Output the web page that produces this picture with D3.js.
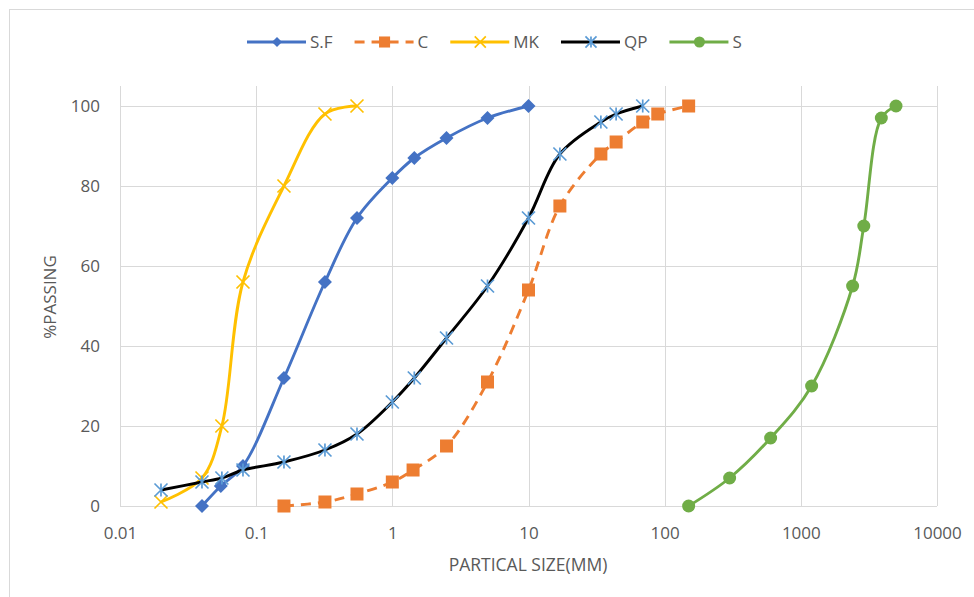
<!DOCTYPE html>
<html>
<head>
<meta charset="utf-8">
<script src="https://cdn.jsdelivr.net/npm/d3@7"></script>
<style>
  body { margin: 0; background: #fff; }
  text { font-family: "Open Sans", sans-serif; fill: #595959; }
</style>
</head>
<body>
<div id="chart"></div>
<script>
// sieve data: size in mm, % passing
var sfSize = [0.04, 0.055, 0.08, 0.16, 0.32, 0.55, 1, 1.45, 2.5, 5, 10];
var sfPass = [0, 5, 10, 32, 56, 72, 82, 87, 92, 97, 100];

var cSize = [0.16, 0.32, 0.55, 1, 1.42, 2.5, 5, 10, 17, 34, 44, 69, 89, 150];
var cPass = [0, 1, 3, 6, 9, 15, 31, 54, 75, 88, 91, 96, 98, 100];

var mkSize = [0.02, 0.04, 0.056, 0.08, 0.16, 0.32, 0.55];
var mkPass = [1, 7, 20, 56, 80, 98, 100];

var qpSize = [0.02, 0.04, 0.056, 0.08, 0.16, 0.32, 0.55, 1, 1.45, 2.5, 5, 10, 17, 34, 44, 69];
var qpPass = [4, 6, 7, 9, 11, 14, 18, 26, 32, 42, 55, 72, 88, 96, 98, 100];

var sSize = [150, 300, 600, 1200, 2400, 2900, 3900, 5000];
var sPass = [0, 7, 17, 30, 55, 70, 97, 100];

var xTicks = [0.01, 0.1, 1, 10, 100, 1000, 10000];
var yTicks = [0, 20, 40, 60, 80, 100];

function zip(a, b) { return a.map(function(v, i) { return {x: v, y: b[i]}; }); }

var series = [
  {name: "S.F", pts: zip(sfSize, sfPass), line: "#4472C4", mark: "#4472C4", shape: "diamond"},
  {name: "C",   pts: zip(cSize, cPass),   line: "#ED7D31", mark: "#ED7D31", shape: "square", dash: "10,7"},
  {name: "MK",  pts: zip(mkSize, mkPass), line: "#FFC000", mark: "#FFC000", shape: "cross"},
  {name: "QP",  pts: zip(qpSize, qpPass), line: "#000000", mark: "#5B9BD5", shape: "star"},
  {name: "S",   pts: zip(sSize, sPass),   line: "#70AD47", mark: "#70AD47", shape: "circle"}
];

var width = 974, height = 597;

var svg = d3.select("#chart")
  .append("svg")
    .attr("width", width)
    .attr("height", height);

// outer chart border (only left/top visible in frame)
svg.append("rect")
  .attr("x", 9.5).attr("y", 9.5)
  .attr("width", 1000).attr("height", 1000)
  .attr("fill", "none")
  .attr("stroke", "#d9d9d9");

var x = d3.scaleLog()
  .domain([0.01, 10000])
  .range([120, 937]);

var y = d3.scaleLinear()
  .domain([0, 105])
  .range([506, 86]);

// grid
svg.append("g").selectAll("line")
  .data(yTicks).enter().append("line")
    .attr("x1", x(0.01)).attr("x2", x(10000))
    .attr("y1", function(d) { return Math.round(y(d)) + 0.5; })
    .attr("y2", function(d) { return Math.round(y(d)) + 0.5; })
    .attr("stroke", "#d9d9d9");

svg.append("g").selectAll("line")
  .data(xTicks).enter().append("line")
    .attr("x1", function(d) { return Math.round(x(d)) + 0.5; })
    .attr("x2", function(d) { return Math.round(x(d)) + 0.5; })
    .attr("y1", y(105)).attr("y2", y(0))
    .attr("stroke", "#d9d9d9");

// axes
var xAxis = svg.append("g")
  .attr("transform", "translate(0," + y(0) + ")")
  .call(d3.axisBottom(x).tickValues(xTicks).tickFormat(function(d) { return String(d); })
        .tickSize(0).tickPadding(21));
xAxis.select(".domain").remove();
xAxis.selectAll("text").style("font-size", "17px").attr("fill", "#595959");

var yAxis = svg.append("g")
  .attr("transform", "translate(" + x(0.01) + ",0)")
  .call(d3.axisLeft(y).tickValues(yTicks).tickSize(0).tickPadding(20));
yAxis.select(".domain").remove();
yAxis.selectAll("text").style("font-size", "17px").attr("fill", "#595959");

svg.append("text")
  .attr("x", 528).attr("y", 571)
  .attr("text-anchor", "middle")
  .style("font-size", "17.5px")
  .text("PARTICAL SIZE(MM)");

svg.append("text")
  .attr("transform", "translate(56,297)rotate(-90)")
  .attr("text-anchor", "middle")
  .style("font-size", "17px")
  .text("%PASSING");

// markers
function drawMarker(g, shape, color, cx, cy, k) {
  var s = 6.5 * k;
  if (shape == "diamond") {
    s = s + 0.5;
    g.append("path")
      .attr("d", "M" + cx + "," + (cy - s) + "L" + (cx + s) + "," + cy +
                 "L" + cx + "," + (cy + s) + "L" + (cx - s) + "," + cy + "Z")
      .attr("fill", color);
  } else if (shape == "square") {
    g.append("rect")
      .attr("x", cx - s).attr("y", cy - s)
      .attr("width", 2 * s).attr("height", 2 * s)
      .attr("fill", color);
  } else if (shape == "circle") {
    g.append("circle")
      .attr("cx", cx).attr("cy", cy).attr("r", s)
      .attr("fill", color);
  } else if (shape == "cross") {
    g.append("path")
      .attr("d", "M" + (cx - s) + "," + (cy - s) + "L" + (cx + s) + "," + (cy + s) +
                 "M" + (cx + s) + "," + (cy - s) + "L" + (cx - s) + "," + (cy + s))
      .attr("stroke", color).attr("stroke-width", 1.7).attr("fill", "none");
  } else if (shape == "star") {
    g.append("path")
      .attr("d", "M" + (cx - s) + "," + (cy - s) + "L" + (cx + s) + "," + (cy + s) +
                 "M" + (cx + s) + "," + (cy - s) + "L" + (cx - s) + "," + (cy + s) +
                 "M" + cx + "," + (cy - s) + "L" + cx + "," + (cy + s))
      .attr("stroke", color).attr("stroke-width", 1.7).attr("fill", "none");
  }
}

var line = d3.line()
  .x(function(d) { return x(d.x); })
  .y(function(d) { return y(d.y); })
  .curve(d3.curveCatmullRom.alpha(0.5));

series.forEach(function(s) {
  var g = svg.append("g");
  g.append("path")
    .datum(s.pts)
    .attr("d", line)
    .attr("fill", "none")
    .attr("stroke", s.line)
    .attr("stroke-width", 2.9)
    .attr("stroke-dasharray", s.dash || null);
  s.pts.forEach(function(p) {
    drawMarker(g, s.shape, s.mark, x(p.x), y(p.y), 1);
  });
});

// legend
var lx = 247, ly = 42;
series.forEach(function(s) {
  var g = svg.append("g");
  g.append("line")
    .attr("x1", lx).attr("x2", lx + 59)
    .attr("y1", ly).attr("y2", ly)
    .attr("stroke", s.line).attr("stroke-width", 2.9)
    .attr("stroke-dasharray", s.dash || null);
  drawMarker(g, s.shape, s.mark, lx + 30, ly, s.shape == "diamond" ? 0.7 : 0.85);
  var t = g.append("text")
    .attr("x", lx + 63).attr("y", ly + 6)
    .style("font-size", "17px")
    .text(s.name);
  lx = lx + 63 + t.node().getComputedTextLength() + 22;
});
</script>
</body>
</html>
